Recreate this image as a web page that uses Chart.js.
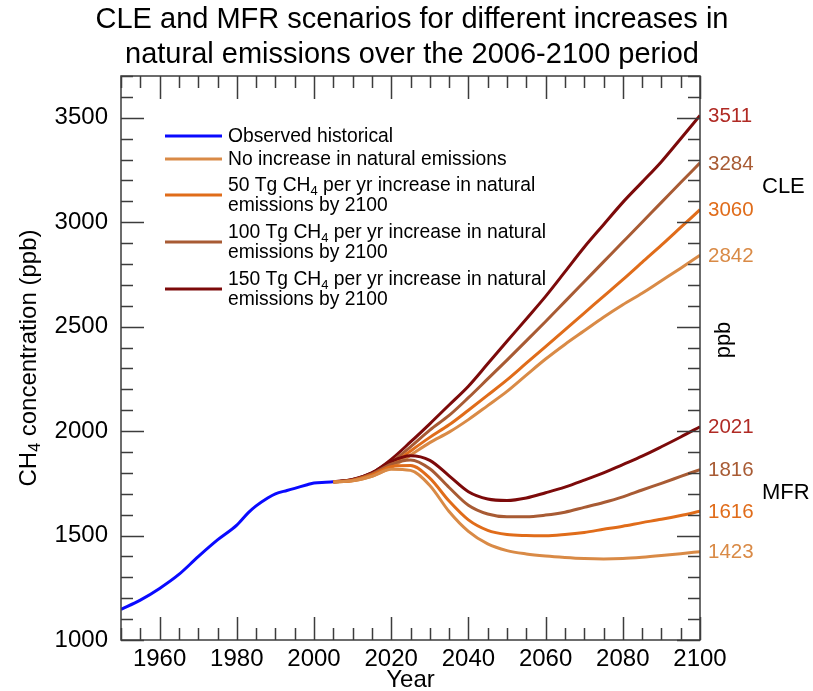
<!DOCTYPE html>
<html>
<head>
<meta charset="utf-8">
<title>CLE and MFR scenarios</title>
<script src="https://cdn.jsdelivr.net/npm/chart.js@4.4.1/dist/chart.umd.min.js"></script>
<style>
  html, body { margin:0; padding:0; background:#fff; }
</style>
</head>
<body>
<canvas id="chart" width="813" height="691"></canvas>
<script>
// --- data ---
const histYears  = [1950, 1955, 1960, 1965, 1970, 1975, 1980, 1983, 1985, 1988, 1990, 1993, 1995, 1998, 2000, 2003, 2005];
const histValues = [1147, 1191, 1247, 1314, 1399, 1479, 1550, 1610, 1642, 1680, 1700, 1716, 1726, 1742, 1752, 1755, 1757];

const scenYears = [2005, 2010, 2015, 2020, 2025, 2030, 2035, 2040, 2045, 2050, 2055, 2060, 2065, 2070, 2075, 2080, 2085, 2090, 2095, 2100];

// CLE scenarios
const cle0   = [1757, 1762, 1784, 1826, 1885, 1945, 1995, 2055, 2122, 2190, 2268, 2345, 2415, 2480, 2545, 2605, 2660, 2720, 2780, 2842];
const cle50  = [1757, 1764, 1790, 1838, 1905, 1970, 2030, 2100, 2172, 2245, 2325, 2405, 2485, 2565, 2645, 2725, 2808, 2890, 2975, 3060];
const cle100 = [1757, 1766, 1795, 1850, 1925, 2005, 2075, 2160, 2250, 2340, 2432, 2525, 2620, 2715, 2810, 2905, 3000, 3095, 3190, 3284];
const cle150 = [1757, 1768, 1800, 1865, 1948, 2035, 2125, 2215, 2322, 2430, 2537, 2645, 2762, 2880, 2988, 3095, 3192, 3290, 3400, 3511];

// MFR scenarios
const mfr0   = [1757, 1762, 1784, 1818, 1812, 1740, 1615, 1520, 1460, 1428, 1412, 1402, 1395, 1390, 1388, 1390, 1396, 1404, 1413, 1423];
const mfr50  = [1757, 1764, 1790, 1830, 1835, 1775, 1665, 1575, 1525, 1505, 1500, 1499, 1505, 1515, 1530, 1545, 1562, 1578, 1596, 1616];
const mfr100 = [1757, 1766, 1795, 1842, 1862, 1820, 1730, 1645, 1603, 1590, 1590, 1598, 1612, 1635, 1658, 1685, 1718, 1750, 1783, 1816];
const mfr150 = [1757, 1768, 1800, 1855, 1882, 1860, 1786, 1710, 1675, 1668, 1680, 1705, 1732, 1765, 1800, 1840, 1880, 1925, 1972, 2021];

const xTicks = [1960, 1980, 2000, 2020, 2040, 2060, 2080, 2100];
const yTicks = [1000, 1500, 2000, 2500, 3000, 3500];

const colHist = '#0a0aff';
const col0   = '#d98a46';
const col50  = '#e06c1a';
const col100 = '#a85b34';
const col150 = '#7c0a0a';

const FONT = '"Liberation Sans", Arial, Helvetica, sans-serif';

function pts(xs, ys) { return xs.map((x, i) => ({ x: x, y: ys[i] })); }

function line(data, color) {
    return {
        data: data,
        borderColor: color,
        borderWidth: 3,
        pointRadius: 0,
        fill: false,
        cubicInterpolationMode: 'monotone'
    };
}

// --- draw text with subscripts: parts = [[text, isSub], ...] ---
function richWidth(ctx, parts, size, subSize) {
    let w = 0;
    parts.forEach(p => {
        ctx.font = (p[1] ? subSize : size) + 'px ' + FONT;
        w += ctx.measureText(p[0]).width;
    });
    return w;
}
function drawRich(ctx, parts, x, y, size, subSize, shift) {
    parts.forEach(p => {
        ctx.font = (p[1] ? subSize : size) + 'px ' + FONT;
        ctx.fillText(p[0], x, p[1] ? y + shift : y);
        x += ctx.measureText(p[0]).width;
    });
}

// --- frame, inward ticks, legend and labels ---
const decorPlugin = {
    id: 'decor',
    afterDraw(chart) {
        const ctx = chart.ctx;
        const a = chart.chartArea;
        const xs = chart.scales.x, ys = chart.scales.y;
        ctx.save();

        // frame
        ctx.strokeStyle = '#3c3c3c';
        ctx.lineWidth = 1.5;
        ctx.strokeRect(a.left, a.top, a.right - a.left, a.bottom - a.top);

        // inward ticks on all four sides
        ctx.beginPath();
        for (let yr = 1950; yr <= 2100; yr += 5) {
            const px = Math.round(xs.getPixelForValue(yr)) + 0.5;
            const len = (yr % 20 === 0) ? 23 : 12;
            ctx.moveTo(px, a.bottom); ctx.lineTo(px, a.bottom - len);
            ctx.moveTo(px, a.top);    ctx.lineTo(px, a.top + len);
        }
        for (let v = 1000; v <= 3700; v += 100) {
            const py = Math.round(ys.getPixelForValue(v)) + 0.5;
            const len = (v % 500 === 0) ? 23 : 12;
            ctx.moveTo(a.left, py);  ctx.lineTo(a.left + len, py);
            ctx.moveTo(a.right, py); ctx.lineTo(a.right - len, py);
        }
        ctx.stroke();

        // legend
        const legend = [
            [colHist, [['Observed historical', false]], null, 136],
            [col0, [['No increase in natural emissions', false]], null, 159],
            [col50, [['50 Tg CH', false], ['4', true], [' per yr increase in natural', false]], 'emissions by 2100', 195],
            [col100, [['100 Tg CH', false], ['4', true], [' per yr increase in natural', false]], 'emissions by 2100', 242],
            [col150, [['150 Tg CH', false], ['4', true], [' per yr increase in natural', false]], 'emissions by 2100', 289]
        ];
        ctx.textBaseline = 'middle';
        ctx.textAlign = 'left';
        legend.forEach(e => {
            ctx.strokeStyle = e[0];
            ctx.lineWidth = 3;
            ctx.beginPath();
            ctx.moveTo(165, e[3]); ctx.lineTo(222, e[3]);
            ctx.stroke();
            ctx.fillStyle = '#000';
            if (e[2]) {
                drawRich(ctx, e[1], 228, e[3] - 9, 19.3, 13, 5);
                ctx.font = '19.3px ' + FONT;
                ctx.fillText(e[2], 228, e[3] + 11);
            } else {
                drawRich(ctx, e[1], 228, e[3] + 1, 19.3, 13, 5);
            }
        });

        // end values on the right
        const ends = [
            [cle150, '#b02a24'], [cle100, '#a85b34'], [cle50, '#e06c1a'], [cle0, '#d98a46'],
            [mfr150, '#b02a24'], [mfr100, '#a85b34'], [mfr50, '#e06c1a'], [mfr0, '#d98a46']
        ];
        ctx.font = '20.5px ' + FONT;
        ends.forEach(e => {
            const v = e[0][e[0].length - 1];
            ctx.fillStyle = e[1];
            ctx.fillText(String(v), 708, ys.getPixelForValue(v) + 1);
        });

        ctx.fillStyle = '#000';
        ctx.font = '22px ' + FONT;
        ctx.fillText('CLE', 762, 187);
        ctx.fillText('MFR', 762, 493);

        // right "ppb"
        ctx.save();
        ctx.translate(724, 340);
        ctx.rotate(-Math.PI / 2);
        ctx.textAlign = 'center';
        ctx.font = '22px ' + FONT;
        ctx.fillText('ppb', 0, 0);
        ctx.restore();

        // left axis title with subscript
        const yt = [['CH', false], ['4', true], [' concentration (ppb)', false]];
        ctx.save();
        ctx.translate(29, (a.top + a.bottom) / 2);
        ctx.rotate(-Math.PI / 2);
        const w = richWidth(ctx, yt, 24, 16);
        drawRich(ctx, yt, -w / 2, 0, 24, 16, 7);
        ctx.restore();

        // x axis title
        ctx.textAlign = 'center';
        ctx.font = '24px ' + FONT;
        ctx.fillText('Year', (a.left + a.right) / 2, 680);

        ctx.restore();
    }
};

const ctx = document.getElementById('chart');
new Chart(ctx, {
    type: 'line',
    data: {
        datasets: [
            line(pts(scenYears, mfr0), col0),
            line(pts(scenYears, mfr50), col50),
            line(pts(scenYears, mfr100), col100),
            line(pts(scenYears, mfr150), col150),
            line(pts(scenYears, cle0), col0),
            line(pts(scenYears, cle50), col50),
            line(pts(scenYears, cle100), col100),
            line(pts(scenYears, cle150), col150),
            line(pts(histYears, histValues), colHist)
        ]
    },
    options: {
        responsive: false,
        animation: false,
        layout: { padding: { left: 11, right: 0, top: 0, bottom: 0 } },
        plugins: {
            legend: { display: false },
            tooltip: { enabled: false },
            title: {
                display: true,
                text: ['CLE and MFR scenarios for different increases in',
                       'natural emissions over the 2006-2100 period'],
                color: '#000',
                font: { family: FONT, size: 29, weight: 'normal', lineHeight: 1.2 },
                padding: { top: 3, bottom: 3.4 },
                align: 'center'
            }
        },
        scales: {
            x: {
                type: 'linear',
                min: 1950, max: 2100,
                grid: { display: false, drawTicks: false },
                border: { display: false },
                afterBuildTicks: s => { s.ticks = xTicks.map(v => ({ value: v })); },
                afterFit: s => { s.height = 51; },
                ticks: { color: '#000', padding: 5, maxRotation: 0, font: { family: FONT, size: 24 },
                         callback: v => String(v) }
            },
            y: {
                type: 'linear',
                min: 1000, max: 3700,
                grid: { display: false, drawTicks: false },
                border: { display: false },
                afterBuildTicks: s => { s.ticks = yTicks.map(v => ({ value: v })); },
                afterFit: s => { s.width = 110; },
                ticks: { color: '#000', padding: 13, font: { family: FONT, size: 24 },
                         callback: v => String(v) }
            },
            side: {
                type: 'linear',
                position: 'right',
                display: true,
                grid: { display: false, drawTicks: false },
                border: { display: false },
                ticks: { display: false },
                afterFit: s => { s.width = 113; }
            }
        }
    },
    plugins: [decorPlugin]
});
</script>
</body>
</html>
